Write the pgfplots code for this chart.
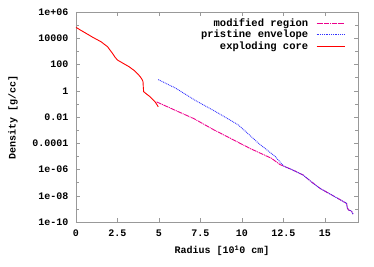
\documentclass[border=0pt]{standalone}
\usepackage{fontspec}
\setmainfont{Liberation Mono}
\usepackage{pgfplots}
\pgfplotsset{compat=1.18}
\usepackage{pgfplotstable}

% x in 10^10 cm, ly = log10(density [g/cc])
\pgfplotstableread{
x ly
0.00 4.83
0.30 4.60
0.60 4.38
1.00 4.08
1.50 3.74
1.90 3.36
2.05 3.10
2.20 2.85
2.35 2.56
2.50 2.34
2.80 2.12
3.20 1.83
3.50 1.55
3.75 1.25
3.90 1.02
4.00 0.82
4.04 0.69
4.06 0.20
4.08 -0.07
4.30 -0.30
4.46 -0.45
4.76 -0.83
4.96 -1.22
}\core

\pgfplotstableread{
x ly
4.86 -0.85
6.00 -1.50
7.10 -2.12
8.27 -2.95
9.50 -3.75
10.50 -4.40
11.79 -5.15
12.29 -5.62
13.00 -6.00
13.69 -6.42
14.20 -6.95
14.70 -7.43
15.50 -8.00
16.31 -8.58
16.36 -8.95
16.45 -9.10
16.60 -9.15
16.70 -9.40
}\modified

\pgfplotstableread{
x ly
4.96 0.85
6.00 0.20
7.17 -0.72
8.50 -1.65
9.78 -2.60
10.18 -3.05
11.00 -4.00
12.00 -5.00
12.50 -5.72
12.70 -5.85
13.00 -6.00
13.69 -6.42
14.20 -6.95
14.70 -7.43
15.50 -8.00
16.31 -8.58
16.36 -8.95
16.45 -9.10
16.60 -9.15
16.70 -9.40
}\pristine

\begin{document}
\begin{tikzpicture}
\begin{axis}[
  name=ax,
  scale only axis,
  width=282pt, height=210pt,
  xmin=0, xmax=17,
  ymin=-10, ymax=6,
  xtick={0,2.5,5,7.5,10,12.5,15},
  xticklabels={0,2.5,5,7.5,10,12.5,15},
  ytick={-10,-8,-6,-4,-2,0,2,4,6},
  yticklabels={1e-10,1e-08,1e-06,0.0001,0.01,1,100,10000,1e+06},
  minor ytick={-9,-7,-5,-3,-1,1,3,5},
  /pgf/number format/assume math mode=true,
  font=\fontsize{10}{12}\selectfont\bfseries,
  tick align=inside,
  major tick length=4pt,
  minor tick length=3pt,
  axis line style={gray!80},
  every tick/.style={gray!80},
  xticklabel style={yshift=-4pt},
  yticklabel style={xshift=-4pt},
  every axis x label/.style={at={(axis description cs:0.5,0)}, yshift=-28.7pt, xshift=5pt, anchor=center},
  every axis y label/.style={at={(axis description cs:0,0.5)}, xshift=-63pt, rotate=90, anchor=center},
  xlabel={Radius [10\textsuperscript{1}0 cm]},
  ylabel={Density [g/cc]},
  legend plot pos=right,
  legend cell align=right,
  legend style={draw=none, fill=none, at={(0.955,0.98)}, anchor=north east,
    inner sep=0pt, row sep=-1.3pt, font=\fontsize{10.5}{12}\selectfont\bfseries,
    /tikz/every odd column/.append style={column sep=6pt}},
  legend image code/.code={\draw[#1] (0pt,0pt) -- (28pt,0pt);},
]
\addplot[magenta, line width=0.9pt, dash pattern=on 5pt off 0.8pt on 1pt off 0.8pt] table[x=x,y=ly] {\modified};
\addlegendentry{modified region}
\addplot[blue!80, line width=0.9pt, dash pattern=on 0.9pt off 0.9pt] table[x=x,y=ly] {\pristine};
\addlegendentry{pristine envelope}
\addplot[red, line width=0.9pt] table[x=x,y=ly] {\core};
\addlegendentry{exploding core}
\end{axis}
\pgfresetboundingbox
\path ([xshift=-76pt,yshift=-45pt]ax.south west) rectangle ([xshift=16pt,yshift=12pt]ax.north east);
\end{tikzpicture}
\end{document}
